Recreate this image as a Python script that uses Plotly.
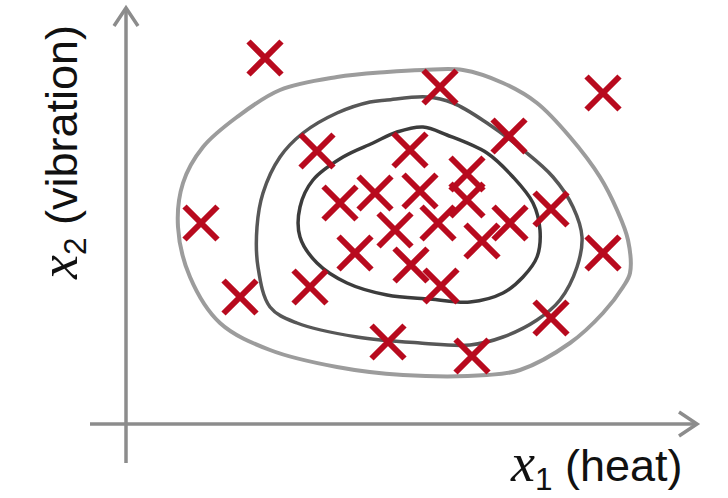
import plotly.graph_objects as go

# Data (units: pixels from the axis origin, y up)
sample_x = [139, 314, 477, 383, 191, 284, 341, 249, 294, 214, 341, 425, 75,
            312, 384, 269, 356, 477, 229, 285, 315, 114, 184, 425, 262, 346]
sample_y = [366, 337, 331, 288, 273, 274, 250, 231, 233, 221, 224, 215, 201,
            201, 201, 194, 183, 171, 171, 159, 138, 127, 137, 106, 82, 68]

outer_x = [297, 337, 377, 411, 444, 474, 491, 502, 504, 497, 477, 444, 394, 361,
           277, 211, 144, 94, 64, 52, 57, 77, 111, 154, 211, 261, 297]
outer_y = [354, 354, 341, 321, 287, 247, 214, 184, 151, 137, 111, 81, 54, 49,
           49, 57, 74, 101, 147, 197, 241, 277, 307, 334, 347, 352, 354]

middle_x = [261, 301, 327, 361, 397, 427, 447, 456, 451, 434, 411, 377, 344, 294,
            231, 171, 144, 132, 131, 137, 154, 177, 211, 244, 261]
middle_y = [324, 327, 321, 301, 274, 247, 217, 187, 157, 124, 104, 87, 79, 81,
            87, 101, 117, 157, 197, 231, 267, 291, 311, 322, 324]

inner_x = [271, 297, 321, 361, 387, 407, 414, 411, 397, 377, 344, 304, 261, 221,
           191, 174, 174, 187, 217, 247, 271]
inner_y = [292, 297, 289, 271, 247, 221, 194, 167, 147, 131, 122, 125, 129, 141,
           161, 187, 217, 244, 267, 281, 292]

x_label = "<span style=\"font-family:'Liberation Serif';font-size:54px\"><i>x</i></span><sub>1</sub> (heat)"
y_label = "<span style=\"font-family:'Liberation Serif';font-size:54px\"><i>x</i></span><sub>2</sub> (vibration)"

AXIS_COLOR = "#8c8c8c"
RED = "#B80A1E"

fig = go.Figure()

# axes with open arrowheads
fig.add_trace(go.Scatter(x=[0, 0], y=[-39, 416], mode="lines",
                         line=dict(color=AXIS_COLOR, width=3.5), hoverinfo="skip"))
fig.add_trace(go.Scatter(x=[-12, 0, 12], y=[398, 416, 398], mode="lines",
                         line=dict(color=AXIS_COLOR, width=3.5), hoverinfo="skip"))
fig.add_trace(go.Scatter(x=[-36, 571], y=[0, 0], mode="lines",
                         line=dict(color=AXIS_COLOR, width=3.5), hoverinfo="skip"))
fig.add_trace(go.Scatter(x=[553, 571, 553], y=[12, 0, -12], mode="lines",
                         line=dict(color=AXIS_COLOR, width=3.5), hoverinfo="skip"))

# contours
fig.add_trace(go.Scatter(x=outer_x, y=outer_y, mode="lines",
                         line=dict(color="#9c9c9c", width=4, shape="spline", smoothing=1.0)))
fig.add_trace(go.Scatter(x=middle_x, y=middle_y, mode="lines",
                         line=dict(color="#575757", width=3.5, shape="spline", smoothing=1.0)))
fig.add_trace(go.Scatter(x=inner_x, y=inner_y, mode="lines",
                         line=dict(color="#3c3c3c", width=3.5, shape="spline", smoothing=1.0)))

# samples
fig.add_trace(go.Scatter(x=sample_x, y=sample_y, mode="markers",
                         marker=dict(symbol="x-thin", size=33,
                                     line=dict(color=RED, width=6))))

fig.add_annotation(x=470, y=-41, text=x_label, showarrow=False,
                   font=dict(family="Liberation Sans", size=45, color="#111111"))
fig.add_annotation(x=-65, y=271, text=y_label, showarrow=False, textangle=-90,
                   font=dict(family="Liberation Sans", size=45, color="#111111"))

fig.update_layout(
    width=728, height=498, autosize=False,
    margin=dict(l=0, r=0, t=0, b=0),
    paper_bgcolor="white", plot_bgcolor="white",
    showlegend=False,
    xaxis=dict(range=[-126, 602], visible=False, fixedrange=True),
    yaxis=dict(range=[-74, 424], visible=False, fixedrange=True),
)

fig.write_html("out.html", config={"displayModeBar": False},
               post_script="document.body.style.margin='0px';document.body.style.padding='0px';")
